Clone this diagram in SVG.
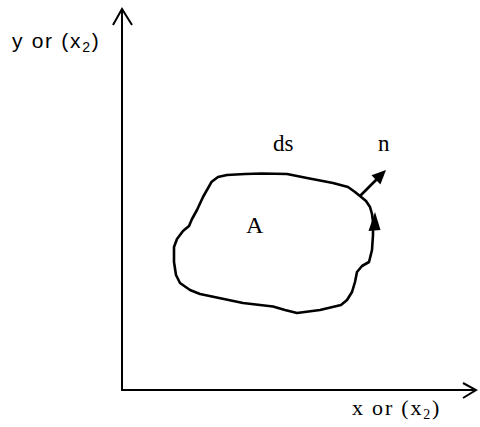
<svg xmlns="http://www.w3.org/2000/svg" width="480" height="427" viewBox="0 0 480 427">
<style>
.ax{fill:none;stroke:#000;stroke-width:2}
.blob{fill:none;stroke:#000;stroke-width:2.6;stroke-linejoin:round}
.serif{font-family:"Liberation Serif","Times New Roman",serif;fill:#000}
.sans{font-family:"Liberation Sans",Arial,sans-serif;fill:#000}
</style>
<rect width="480" height="427" fill="#fff"/>
<g id="axes">
<path class="ax" d="M122,390 V9 M113,25 L122,9 L132,25"/>
<path class="ax" d="M121,390 H476 M463,383 L476,390 L463,398"/>
</g>
<g id="region">
<path class="blob" d="M211.7,181.7 L218,177 L227,175 L245,174 L262,173.5 L287,174 L307,178 L333,183 L348,187 L355,192 L360,196 L366,201 L370,207 L372,214 L373,222 L373,235 L372,250 L369,262 L362,266 L357,272 L355,282 L352,292 L347,300 L341,305 L320,310 L297,313 L285,310 L273,306.5 L243,303 L200,294 L190,290 L180,283 L176,275 L174,262 L174,247 L177,239 L183,231 L189,226 L192,219 L197,210 L203,197 Z"/>
<polygon points="375,212 368.5,231 380.5,230" fill="#000"/>
</g>
<g id="connectors">
<line x1="360" y1="196" x2="377" y2="179" stroke="#000" stroke-width="2.6"/>
<polygon points="386,170 371.5,175.3 380.4,184.4" fill="#000"/>
</g>
<g id="labels">
<text class="sans" x="12" y="48" font-size="21" letter-spacing="1.7">y or (x<tspan font-size="14" dy="4">2</tspan><tspan dy="-4">)</tspan></text>
<text class="serif" x="352" y="415" font-size="22" letter-spacing="1.8">x or (x<tspan font-size="14" dy="4">2</tspan><tspan dy="-4">)</tspan></text>
<text class="serif" x="273" y="151" font-size="23">ds</text>
<text class="serif" x="378" y="151" font-size="23">n</text>
<text class="serif" x="246" y="233" font-size="24">A</text>
</g>
</svg>
